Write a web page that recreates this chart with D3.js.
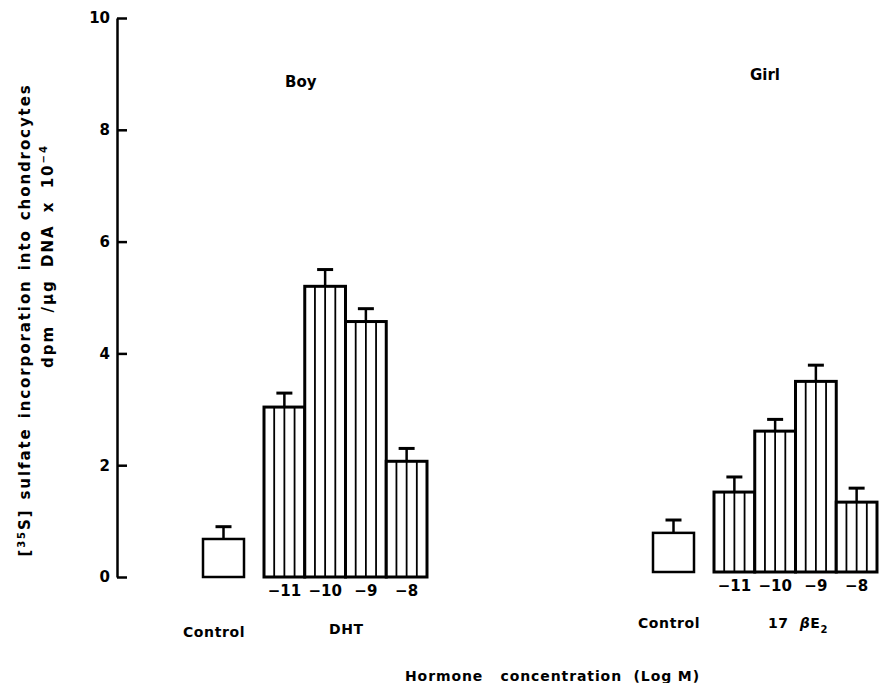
<!DOCTYPE html>
<html>
<body style="margin: 0; background: #fff">
  <script src="https://d3js.org/d3.v7.min.js"></script>

  <script>
    // values
    const groups = ["Boy", "Girl"];
    const concLabels = ["\u221211", "\u221210", "\u22129", "\u22128"];
    const controlMeans = [0.68, 0.70];
    const controlErrTop = [0.90, 0.93];
    const dhtMeans = [3.04, 5.20, 4.57, 2.07];
    const dhtErrTop = [3.29, 5.50, 4.80, 2.30];
    const e2Means = [1.43, 2.52, 3.41, 1.25];
    const e2ErrTop = [1.70, 2.73, 3.70, 1.50];
    const yTicks = [0, 2, 4, 6, 8, 10];

    const FONT = "DejaVu Sans";

    const start = () => {
      const width = 879;
      const height = 683;

      const svg = d3.select("body").append("svg")
        .attr("width", width)
        .attr("height", height)
        .style("font-family", FONT)
        .style("font-weight", "bold");

      const y = d3.scaleLinear().domain([0, 10]).range([577, 18]);
      const groupX = d3.scalePoint().domain(groups).range([203, 653]);

      // y axis
      const yAxis = d3.axisLeft(y)
        .tickValues(yTicks)
        .tickSizeInner(-10)
        .tickSizeOuter(0)
        .tickPadding(7)
        .tickFormat(d3.format("d"));

      const ax = svg.append("g")
        .attr("transform", "translate(117,0)")
        .call(yAxis);
      ax.select(".domain").attr("stroke", "#000").attr("stroke-width", 2.5);
      ax.selectAll(".tick line").attr("stroke", "#000").attr("stroke-width", 2.5);
      ax.selectAll(".tick text")
        .attr("font-family", FONT)
        .attr("font-size", 15)
        .attr("font-weight", "bold")
        .attr("fill", "#000");

      const panels = [
        { name: "Boy", means: dhtMeans, errs: dhtErrTop, dy: 0 },
        { name: "Girl", means: e2Means, errs: e2ErrTop, dy: -5 }
      ];

      panels.forEach((p, gi) => {
        const g0 = groupX(p.name);
        const g = svg.append("g").attr("transform", `translate(0,${p.dy})`);

        const x = d3.scaleBand().domain(concLabels).range([g0 + 61, g0 + 224]).padding(0);
        const bw = x.bandwidth();

        // control box
        const cw = 41;
        g.append("line")
          .attr("x1", g0 + cw / 2).attr("x2", g0 + cw / 2)
          .attr("y1", y(controlMeans[gi])).attr("y2", y(controlErrTop[gi]))
          .attr("stroke", "#000").attr("stroke-width", 2.5);
        g.append("line")
          .attr("x1", g0 + cw / 2 - 8).attr("x2", g0 + cw / 2 + 8)
          .attr("y1", y(controlErrTop[gi])).attr("y2", y(controlErrTop[gi]))
          .attr("stroke", "#000").attr("stroke-width", 3);
        g.append("rect")
          .attr("x", g0).attr("width", cw)
          .attr("y", y(controlMeans[gi]))
          .attr("height", y(0) - y(controlMeans[gi]))
          .attr("fill", "#fff").attr("stroke", "#000").attr("stroke-width", 2.5);

        const data = concLabels.map((c, i) => ({ c, v: p.means[i], e: p.errs[i] }));

        // error bars
        g.selectAll(".err").data(data).enter().append("line")
          .attr("x1", d => x(d.c) + bw / 2).attr("x2", d => x(d.c) + bw / 2)
          .attr("y1", d => y(d.v)).attr("y2", d => y(d.e))
          .attr("stroke", "#000").attr("stroke-width", 2.5);
        g.selectAll(".cap").data(data).enter().append("line")
          .attr("x1", d => x(d.c) + bw / 2 - 8).attr("x2", d => x(d.c) + bw / 2 + 8)
          .attr("y1", d => y(d.e)).attr("y2", d => y(d.e))
          .attr("stroke", "#000").attr("stroke-width", 3);

        // bars
        g.selectAll(".bar").data(data).enter().append("rect")
          .attr("x", d => x(d.c)).attr("width", bw)
          .attr("y", d => y(d.v)).attr("height", d => y(0) - y(d.v))
          .attr("fill", "#fff").attr("stroke", "#000").attr("stroke-width", 3);

        // vertical hatching
        data.forEach(d => {
          [1, 2, 3].forEach(k => {
            g.append("line")
              .attr("x1", x(d.c) + bw * k / 4).attr("x2", x(d.c) + bw * k / 4)
              .attr("y1", y(d.v)).attr("y2", y(0))
              .attr("stroke", "#000").attr("stroke-width", 1.8);
          });
        });

        // concentration labels
        g.selectAll(".cl").data(data).enter().append("text")
          .attr("x", d => x(d.c) + bw / 2)
          .attr("y", y(0) + 19)
          .attr("text-anchor", "middle")
          .attr("font-size", 15)
          .text(d => d.c);
      });

      // panel titles
      svg.append("text").attr("x", 285).attr("y", 87).attr("font-size", 15).text("Boy");
      svg.append("text").attr("x", 750).attr("y", 80).attr("font-size", 15).text("Girl");

      // group labels
      const lab = (t, x0, y0) => svg.append("text").attr("x", x0).attr("y", y0)
        .attr("font-size", 14).attr("letter-spacing", 0.6).text(t);
      lab("Control", 183, 637);
      lab("DHT", 329, 634);
      lab("Control", 638, 628);
      const e2 = lab("17  ", 768, 628).style("white-space", "pre");
      e2.append("tspan").attr("font-style", "italic").text("\u03B2");
      e2.append("tspan").text("E");
      e2.append("tspan").attr("dy", 5).attr("font-size", 10).text("2");

      svg.append("text").attr("x", 405).attr("y", 681).attr("font-size", 14)
        .attr("letter-spacing", 0.9).style("white-space", "pre")
        .text("Hormone   concentration  (Log M)");

      // y axis title
      const t1 = svg.append("text")
        .attr("transform", "translate(30,320) rotate(-90)")
        .attr("text-anchor", "middle").attr("font-size", 15)
        .attr("letter-spacing", 1.9).attr("word-spacing", 2);
      t1.append("tspan").text("[");
      t1.append("tspan").attr("dy", -5).attr("font-size", 10).text("35");
      t1.append("tspan").attr("dy", 5).text("S] sulfate incorporation into chondrocytes");

      const t2 = svg.append("text")
        .attr("transform", "translate(53,256) rotate(-90)")
        .attr("text-anchor", "middle").attr("font-size", 15)
        .attr("letter-spacing", 2).attr("word-spacing", 5);
      t2.append("tspan").text("dpm /\u03BCg DNA x 10");
      t2.append("tspan").attr("dy", -6).attr("font-size", 10).text("\u22124");
    };

    document.addEventListener("DOMContentLoaded", () => {
      start();
    }, false);
  </script>
</body>
</html>
